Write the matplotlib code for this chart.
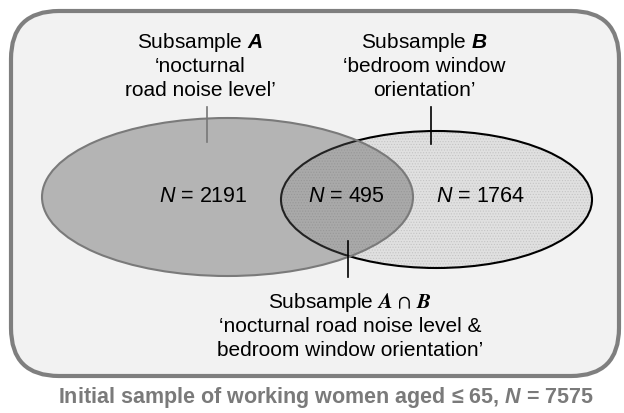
import matplotlib
matplotlib.use('agg')
import matplotlib.pyplot as plt
from matplotlib.patches import Ellipse, FancyBboxPatch

# sample sizes
n_a_only = 2191
n_both = 495
n_b_only = 1764
n_total = 7575

label_a = ["Subsample $\\mathbfit{A}$", "\u2018nocturnal", "road noise level\u2019"]
label_b = ["Subsample $\\mathbfit{B}$", "\u2018bedroom window", "orientation\u2019"]
label_ab = ["Subsample $\\mathbfit{A}\\,\\cap\\,\\mathbfit{B}$",
            "\u2018nocturnal road noise level &",
            "bedroom window orientation\u2019"]
caption = "Initial sample of working women aged \u2264 65, $\\mathbfit{N}$ = %d" % n_total

plt.rcParams['font.family'] = ['Liberation Sans', 'DejaVu Sans']
plt.rcParams['mathtext.fontset'] = 'custom'
plt.rcParams['mathtext.rm'] = 'Liberation Sans'
plt.rcParams['mathtext.it'] = 'Liberation Sans:italic'
plt.rcParams['mathtext.bf'] = 'Liberation Sans:bold'
plt.rcParams['mathtext.bfit'] = 'Liberation Sans:italic:bold'
plt.rcParams['hatch.linewidth'] = 0.5

fig = plt.figure(figsize=(6.24, 4.14), dpi=100)
fig.patch.set_facecolor('white')
ax = fig.add_axes([0, 0, 1, 1])
ax.set_xlim(0, 624)
ax.set_ylim(414, 0)
ax.axis('off')

# outer rounded box (initial sample)
box = FancyBboxPatch((11, 12), 608, 365, boxstyle="round,pad=0,rounding_size=48",
                     facecolor='#f2f2f2', edgecolor='#7f7f7f', linewidth=3.0, zorder=1)
ax.add_patch(box)

# subsample B: light dotted ellipse
ax.add_patch(Ellipse((436.5, 200.5), 311, 137, facecolor='#e0e0e0',
                     edgecolor='none', linewidth=0, zorder=2))
ax.add_patch(Ellipse((436.5, 200.5), 311, 137, facecolor='none',
                     edgecolor='#c4c4c4', hatch='......', linewidth=0, zorder=3))
ax.add_patch(Ellipse((436.5, 200.5), 311, 137, facecolor='none',
                     edgecolor='black', linewidth=1.5, zorder=4))

# subsample A: translucent grey ellipse on top
ax.add_patch(Ellipse((227.5, 198), 371, 158, facecolor=(0.34, 0.34, 0.34, 0.4),
                     edgecolor='none', zorder=5))
ax.add_patch(Ellipse((227.5, 198), 371, 158, facecolor='none',
                     edgecolor='#7a7a7a', linewidth=1.5, zorder=6))

# leader lines
ax.plot([207, 207], [108, 143], color='#777777', lw=1.2, zorder=7)
ax.plot([431, 431], [108, 145], color='black', lw=1.2, zorder=7)
ax.plot([348, 348], [242, 278], color='black', lw=1.2, zorder=7)

# counts
fs_n = 15.5
ax.text(203, 197, "$N$ = %d" % n_a_only, fontsize=fs_n, ha='center', va='center', zorder=8)
ax.text(346, 197, "$N$ = %d" % n_both, fontsize=fs_n, ha='center', va='center', zorder=8)
ax.text(481, 197, "$N$ = %d" % n_b_only, fontsize=fs_n, ha='center', va='center', zorder=8)

# subsample labels
fs = 15
for i, s in enumerate(label_a):
    ax.text(200, 43 + 24 * i, s, fontsize=fs, ha='center', va='center', zorder=8)
for i, s in enumerate(label_b):
    ax.text(424, 43 + 24 * i, s, fontsize=fs, ha='center', va='center', zorder=8)
for i, s in enumerate(label_ab):
    t = ax.text(350, 303 + 24 * i, s, fontsize=fs, ha='center', va='center', zorder=8)
    if i == 0:
        t.set_math_fontfamily('stix')

ax.text(326, 398, caption, fontsize=15.5, fontweight='bold', color='#7a7a7a',
        ha='center', va='center')

fig.savefig('out.png', dpi=100, facecolor='white')
